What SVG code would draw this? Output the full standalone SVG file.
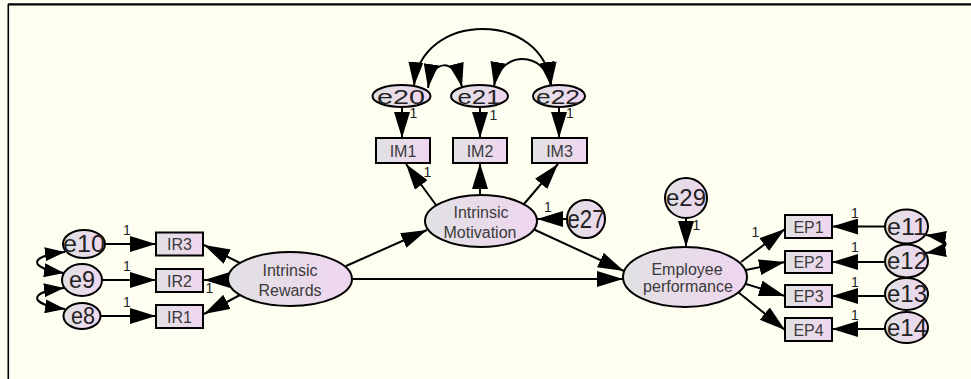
<svg xmlns="http://www.w3.org/2000/svg" width="971" height="379" viewBox="0 0 971 379">
<defs>
<linearGradient id="g" x1="0" y1="0" x2="1" y2="0">
<stop offset="0" stop-color="#E1E1E3"/>
<stop offset="1" stop-color="#EFD6EF"/>
</linearGradient>
<marker id="ah" viewBox="0 0 26 16" refX="26" refY="8" markerWidth="26" markerHeight="16" markerUnits="userSpaceOnUse" orient="auto">
<path d="M0,0 L26,8 L0,16 z" fill="#000"/>
</marker>
<marker id="ahc" viewBox="0 0 24 15" refX="24" refY="7.5" markerWidth="24" markerHeight="15" markerUnits="userSpaceOnUse" orient="auto-start-reverse">
<path d="M0,0 L24,7.5 L0,15 z" fill="#000"/>
</marker>
<marker id="ahs" viewBox="0 0 20 14" refX="20" refY="7" markerWidth="20" markerHeight="14" markerUnits="userSpaceOnUse" orient="auto-start-reverse">
<path d="M0,0 L20,7 L0,14 z" fill="#000"/>
</marker>
</defs>
<style>
.n{fill:url(#g);stroke:#000;stroke-width:2}
.e{font-family:"Liberation Sans",Arial,sans-serif;fill:#222;text-anchor:middle}
.t{font-family:"Liberation Sans",Arial,sans-serif;fill:#3a3a3a;text-anchor:middle;font-size:16px}
.one{font-family:"Liberation Sans",Arial,sans-serif;fill:#222;text-anchor:middle;font-size:14px}
.c line,.c path{stroke:#000;stroke-width:2;fill:none}
.c line{marker-end:url(#ah)}
.cov{marker-start:url(#ahc);marker-end:url(#ahc)}
.covs{marker-start:url(#ahs);marker-end:url(#ahs)}
</style>
<rect x="0" y="0" width="971" height="379" fill="#FEFEF1"/>
<line x1="8" y1="4.3" x2="971" y2="4.3" stroke="#000" stroke-width="2.2"/>
<line x1="8.3" y1="4" x2="8.3" y2="379" stroke="#000" stroke-width="1.6"/>

<g class="c" id="connectors">
<line x1="105" y1="244" x2="156" y2="244"/>
<line x1="102" y1="280" x2="156" y2="280"/>
<line x1="100" y1="316" x2="156" y2="316"/>
<line x1="240" y1="263" x2="204" y2="245"/>
<line x1="229" y1="280" x2="204" y2="280"/>
<line x1="240" y1="295" x2="204" y2="314"/>
<line x1="346" y1="266" x2="427" y2="230"/>
<line x1="352" y1="279" x2="623" y2="279"/>
<line x1="533" y1="229" x2="624" y2="271"/>
<line x1="436" y1="205" x2="406" y2="164"/>
<line x1="480" y1="195" x2="480" y2="163"/>
<line x1="524" y1="204" x2="558" y2="164"/>
<line x1="567" y1="219" x2="537" y2="219"/>
<line x1="402" y1="107" x2="402" y2="138"/>
<line x1="480" y1="107" x2="480" y2="138"/>
<line x1="559" y1="107" x2="559" y2="138"/>
<line x1="686" y1="218" x2="686" y2="247"/>
<line x1="885" y1="226.5" x2="832" y2="226.5"/>
<line x1="885" y1="262" x2="832" y2="262"/>
<line x1="885" y1="296" x2="832" y2="296"/>
<line x1="885" y1="329" x2="832" y2="329"/>
<line x1="741" y1="262" x2="785" y2="229"/>
<line x1="746" y1="270" x2="785" y2="262"/>
<line x1="746" y1="284" x2="785" y2="296"/>
<line x1="738" y1="292" x2="785" y2="330"/>
<path class="cov" d="M414,86 C420,10 545,10 551,86"/>
<path class="cov" d="M428,88 C432,58 455,58 462,87"/>
<path class="cov" d="M494,86 C500,50 545,50 551,86"/>
<path class="covs" d="M65,252 C28,256 28,268 64,273"/>
<path class="covs" d="M64,288 C28,292 28,304 65,309"/>
<path class="covs" d="M926,235 C952,239 952,249 926,253"/>
</g>

<g id="e10"><ellipse class="n" cx="84" cy="244" rx="21" ry="14"/><text class="e" x="84" y="252" font-size="23" textLength="42" lengthAdjust="spacingAndGlyphs">e10</text></g>
<g id="e9"><ellipse class="n" cx="82" cy="280" rx="20" ry="16"/><text class="e" x="82" y="288" font-size="23" textLength="26" lengthAdjust="spacingAndGlyphs">e9</text></g>
<g id="e8"><ellipse class="n" cx="82" cy="316" rx="18.5" ry="13"/><text class="e" x="83" y="324" font-size="23" textLength="24" lengthAdjust="spacingAndGlyphs">e8</text></g>

<g id="IR3"><rect class="n" x="156" y="232.5" width="47" height="23"/><text class="t" x="179.5" y="250">IR3</text></g>
<g id="IR2"><rect class="n" x="156" y="269" width="47" height="23"/><text class="t" x="179.5" y="286.5">IR2</text></g>
<g id="IR1"><rect class="n" x="156" y="305" width="47" height="23"/><text class="t" x="179.5" y="322.5">IR1</text></g>

<g id="IntrinsicRewards"><ellipse class="n" cx="290" cy="279" rx="62" ry="27"/><text class="t" x="290" y="276">Intrinsic</text><text class="t" x="290" y="296">Rewards</text></g>

<g id="e20"><ellipse class="n" cx="401.5" cy="96" rx="29" ry="11"/><text class="e" x="401" y="103.5" font-size="21" textLength="48" lengthAdjust="spacingAndGlyphs">e20</text></g>
<g id="e21"><ellipse class="n" cx="479.5" cy="96" rx="28.5" ry="11"/><text class="e" x="479" y="103.5" font-size="21" textLength="43" lengthAdjust="spacingAndGlyphs">e21</text></g>
<g id="e22"><ellipse class="n" cx="559" cy="96" rx="26" ry="11"/><text class="e" x="558" y="103.5" font-size="21" textLength="44" lengthAdjust="spacingAndGlyphs">e22</text></g>

<g id="IM1"><rect class="n" x="376" y="138" width="54" height="25"/><text class="t" x="403" y="156.5">IM1</text></g>
<g id="IM2"><rect class="n" x="453" y="138" width="54" height="25"/><text class="t" x="480" y="156.5">IM2</text></g>
<g id="IM3"><rect class="n" x="532" y="138" width="55" height="25"/><text class="t" x="559.5" y="156.5">IM3</text></g>

<g id="IntrinsicMotivation"><ellipse class="n" cx="481" cy="221" rx="56" ry="26"/><text class="t" x="481" y="218">Intrinsic</text><text class="t" x="480" y="238">Motivation</text></g>

<g id="e27"><ellipse class="n" cx="586" cy="219" rx="19" ry="19"/><text class="e" x="586" y="228" font-size="26" textLength="37" lengthAdjust="spacingAndGlyphs">e27</text></g>

<g id="e29"><ellipse class="n" cx="686" cy="198" rx="21" ry="20"/><text class="e" x="686" y="206" font-size="24" textLength="40" lengthAdjust="spacingAndGlyphs">e29</text></g>

<g id="EmployeePerformance"><ellipse class="n" cx="685" cy="277" rx="62" ry="30"/><text class="t" x="687" y="275">Employee</text><text class="t" x="688" y="292">performance</text></g>

<g id="EP1"><rect class="n" x="785" y="215" width="47" height="23"/><text class="t" x="808.5" y="232.5">EP1</text></g>
<g id="EP2"><rect class="n" x="785" y="251" width="47" height="22"/><text class="t" x="808.5" y="268">EP2</text></g>
<g id="EP3"><rect class="n" x="785" y="285" width="47" height="22"/><text class="t" x="808.5" y="302">EP3</text></g>
<g id="EP4"><rect class="n" x="785" y="318" width="47" height="23"/><text class="t" x="808.5" y="335.5">EP4</text></g>

<g id="e11"><ellipse class="n" cx="906.5" cy="226.5" rx="21.5" ry="17"/><text class="e" x="907" y="234.5" font-size="23" textLength="40" lengthAdjust="spacingAndGlyphs">e11</text></g>
<g id="e12"><ellipse class="n" cx="906.5" cy="261" rx="21.5" ry="16.5"/><text class="e" x="907" y="269" font-size="23" textLength="40" lengthAdjust="spacingAndGlyphs">e12</text></g>
<g id="e13"><ellipse class="n" cx="906.5" cy="294" rx="21.5" ry="16"/><text class="e" x="907" y="302" font-size="23" textLength="40" lengthAdjust="spacingAndGlyphs">e13</text></g>
<g id="e14"><ellipse class="n" cx="906.5" cy="327.5" rx="21.5" ry="15.5"/><text class="e" x="907" y="335.5" font-size="23" textLength="40" lengthAdjust="spacingAndGlyphs">e14</text></g>

<g id="labels">
<text class="one" x="127" y="235">1</text>
<text class="one" x="127" y="271">1</text>
<text class="one" x="127" y="307">1</text>
<text class="one" x="209.5" y="293" font-size="11">1</text>
<text class="one" x="413.5" y="118" font-size="11">1</text>
<text class="one" x="493.5" y="120" font-size="11">1</text>
<text class="one" x="570" y="118" font-size="11">1</text>
<text class="one" x="427.5" y="177">1</text>
<text class="one" x="548" y="212">1</text>
<text class="one" x="696.5" y="230" font-size="12">1</text>
<text class="one" x="755.5" y="237">1</text>
<text class="one" x="855" y="218">1</text>
<text class="one" x="855" y="252">1</text>
<text class="one" x="855" y="287">1</text>
<text class="one" x="855" y="320">1</text>
</g>
</svg>
